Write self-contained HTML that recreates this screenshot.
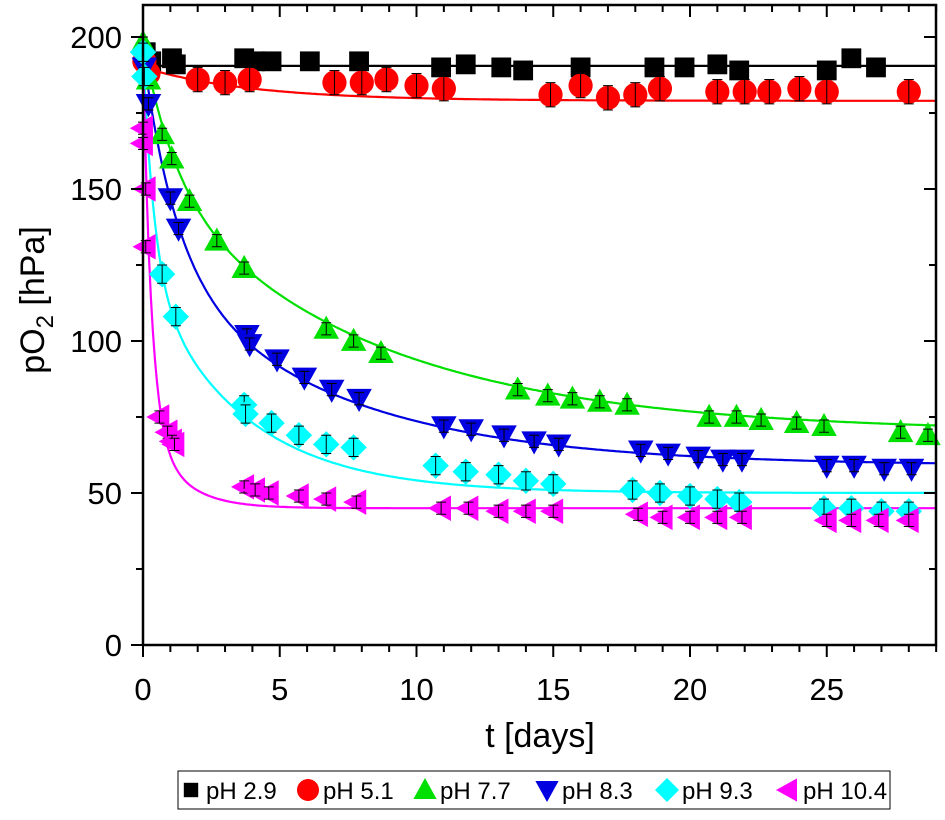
<!DOCTYPE html>
<html><head><meta charset="utf-8">
<style>
body{margin:0;background:#fff;}
svg text{font-family:"Liberation Sans",Arial,sans-serif;}
</style></head>
<body>
<svg id="chart" width="945" height="815" viewBox="0 0 945 815" xmlns="http://www.w3.org/2000/svg">
<rect width="945" height="815" fill="#fff"/>
<g id="fits"></g>
<g id="marks"></g>
<g id="axes"></g>
<text transform="translate(44,300) rotate(-90)" text-anchor="middle" font-size="34">pO<tspan font-size="24" dy="9">2</tspan><tspan dy="-9"> [hPa]</tspan></text>
<text x="540" y="747" text-anchor="middle" font-size="34">t [days]</text>
<g id="legend"></g>
</svg>
<script>
const NS='http://www.w3.org/2000/svg';
const xTicks=[0,5,10,15,20,25];
const yTicks=[0,50,100,150,200];
const seriesNames=['pH 2.9','pH 5.1','pH 7.7','pH 8.3','pH 9.3','pH 10.4'];
const seriesColors=['#000000','#ff0000','#00e000','#0000e0','#00ffff','#ff00ff'];
const seriesShapes=['square','circle','up','down','diamond','left'];
const t29=[0.1,0.3,1.06,1.2,3.7,4.1,4.7,6.1,7.9,10.9,11.8,13.1,13.9,16,18.7,19.8,21,21.8,25,25.9,26.8];
const v29=[195,192,193,191,193,192,192,192,192,190,191,190,189,190,190,190,191,189,189,193,190];
const t51=[0.05,0.2,2,3,3.9,7,8,8.9,10,11,14.9,16,17,18,18.9,21,22,22.9,24,25,28];
const v51=[192,188,186,185,186,185,185,186,184,183,181,184,180,181,183,182,182,182,183,182,182];
const t77=[0.0,0.2,0.7,1.05,1.7,2.7,3.7,6.7,7.7,8.7,13.7,14.8,15.7,16.7,17.7,20.7,21.7,22.6,23.9,24.9,27.7,28.7];
const v77=[198,186,168,160,146,133,124,104,100,96,84,82,81,80,79,75,75,74,73,72,70,69];
const t83=[0.05,0.2,1,1.3,3.8,3.9,4.9,5.9,6.9,7.9,11,12,13.2,14.3,15.2,18.2,19.2,20.3,21.2,21.9,25,26,27.1,28.1];
const v83=[190,178,147,137,102,99,94,88,84,81,72,71,69,67,66,64,63,62,61,61,59,59,58,58];
const t93=[0.0,0.05,0.7,1.2,3.7,3.75,4.7,5.7,6.7,7.7,10.7,11.8,13,14,15,17.9,18.9,20,21,21.8,24.9,25.9,27,28];
const v93=[195,187,122,108,79,76,73,69,66,65,59,57,56,54,53,51,50,49,48,47,45,45,44,44];
const t104=[0.0,0.0,0.1,0.1,0.6,0.9,1.06,1.15,3.7,4.1,4.6,5.7,6.7,7.8,10.9,11.9,13,14,15,18.1,19,20,21,21.9,25,25.9,26.9,28];
const v104=[170,165,150,131,75,70,67,66,52,51,50,49,48,47,45,45,44,44,44,43,42,42,42,42,41,41,41,41];
const seriesT=[t29,t51,t77,t83,t93,t104];
const seriesV=[v29,v51,v77,v83,v93,v104];
const errBars=[1,4,2,2,3,2];
// fit params: plateau, start value, fraction1, tau1, tau2
const fitPlateau=[190.5,179,70,59,50,45];
const fitStart=[190.5,190,198,195,195,195];
const fitFrac1=[0,0,0.35,0.5,0.5,0.8];
const fitTau1=[1,1,1.2,1.2,0.41,0.3];
const fitTau2=[1,4,8,6.5,3.5,1.2];

const X0=143,X1=936,Y0=645,Y1=5;
const xMax=(X1-X0)/27.35, yMax=(Y0-Y1)/3.04;
const xs=t=>X0+t*(X1-X0)/xMax;
const ys=v=>Y0-v*(Y0-Y1)/yMax;
function mk(tag,attrs,parent){const e=document.createElementNS(NS,tag);for(const k in attrs)e.setAttribute(k,attrs[k]);parent.appendChild(e);return e;}
function shape(type,cx,cy,col,parent,s){
  let e;
  if(type==='square')e=mk('rect',{x:cx-s*0.45,y:cy-s*0.45,width:s*0.9,height:s*0.9,fill:col},parent);
  else if(type==='circle')e=mk('circle',{cx:cx,cy:cy,r:s*0.55,fill:col},parent);
  else {let p;
    if(type==='up')p=[[cx,cy-s*0.6],[cx+s*0.58,cy+s*0.45],[cx-s*0.58,cy+s*0.45]];
    else if(type==='down')p=[[cx,cy+s*0.6],[cx+s*0.58,cy-s*0.45],[cx-s*0.58,cy-s*0.45]];
    else if(type==='diamond')p=[[cx,cy-s*0.6],[cx+s*0.6,cy],[cx,cy+s*0.6],[cx-s*0.6,cy]];
    else p=[[cx-s*0.6,cy],[cx+s*0.45,cy-s*0.58],[cx+s*0.45,cy+s*0.58]];
    e=mk('polygon',{points:p.map(q=>q.join(',')).join(' '),fill:col},parent);}
  return e;
}
const fits=document.getElementById('fits'),marks=document.getElementById('marks'),axes=document.getElementById('axes');
const defs=mk('defs',{},document.getElementById('chart'));
const cp=mk('clipPath',{id:'pc'},defs);mk('rect',{x:X0,y:Y1,width:X1-X0,height:Y0-Y1},cp);
fits.setAttribute('clip-path','url(#pc)');
for(let i=0;i<6;i++){
  let d='';
  for(let k=0;k<=400;k++){const t=k/400*xMax;
    const A=fitStart[i]-fitPlateau[i];
    const v=fitPlateau[i]+A*(fitFrac1[i]*Math.exp(-t/fitTau1[i])+(1-fitFrac1[i])*Math.exp(-t/fitTau2[i]));
    d+=(k?'L':'M')+xs(t).toFixed(1)+','+ys(v).toFixed(1);}
  const p=mk('path',{d:d,fill:'none',stroke:seriesColors[i],'stroke-width':2.2},fits);
  
  
}
for(let i=0;i<6;i++){
  const g=mk('g',{},marks);
  
  
  seriesT[i].forEach((t,j)=>{
    const cx=xs(t),cy=ys(seriesV[i][j]);
    const m=shape(seriesShapes[i],cx,cy,seriesColors[i],g,22);
    
    
    const e=errBars[i]*3.04;
    mk('path',{d:`M${cx},${cy-e}V${cy+e}M${cx-5},${cy-e}H${cx+5}M${cx-5},${cy+e}H${cx+5}`,stroke:'#000','stroke-width':1,fill:'none'},g);
  });
}
mk('rect',{x:X0,y:Y1,width:X1-X0,height:Y0-Y1,fill:'none',stroke:'#000','stroke-width':2.5},axes);
for(let t=0;t<=29;t++){const x=xs(t),maj=t%5===0;
  mk('line',{x1:x,y1:Y0,x2:x,y2:Y0+(maj?12:7),stroke:'#000','stroke-width':2},axes);
  mk('line',{x1:x,y1:Y1,x2:x,y2:Y1+(maj?12:7),stroke:'#000','stroke-width':2},axes);}
for(let v=0;v<=210;v+=25){const y=ys(v),maj=v%50===0;
  mk('line',{x1:X0,y1:y,x2:X0-(maj?12:7),y2:y,stroke:'#000','stroke-width':2},axes);
  mk('line',{x1:X1,y1:y,x2:X1-(maj?12:7),y2:y,stroke:'#000','stroke-width':2},axes);}
xTicks.forEach(t=>{const e=mk('text',{x:xs(t),y:700,'text-anchor':'middle','font-size':31},axes);e.textContent=t;
  
  });
yTicks.forEach(v=>{const e=mk('text',{x:122,y:ys(v)+11,'text-anchor':'end','font-size':31},axes);e.textContent=v;
  
  });
const lg=document.getElementById('legend');
mk('rect',{x:178,y:771,width:712,height:38,fill:'#fff',stroke:'#000','stroke-width':1},lg);
const lx=[189,306,423,545,665,786];
for(let i=0;i<6;i++){
  const g=mk('g',{},lg);
  
  
  shape(seriesShapes[i],lx[i]+2,790,seriesColors[i],g,seriesShapes[i]==='square'?16:20);
  const t=mk('text',{x:lx[i]+17,y:799,'font-size':24},g);t.textContent=seriesNames[i];
}
</script>
</body></html>
